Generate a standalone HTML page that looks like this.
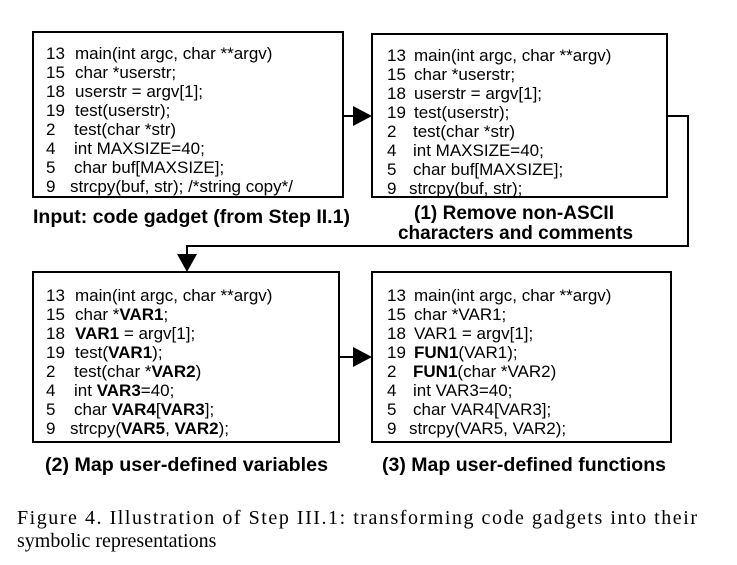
<!DOCTYPE html>
<html><head><meta charset="utf-8"><style>
html,body{margin:0;padding:0;background:#fff;}
svg{display:block;}
.c{font-family:"Liberation Sans Narrow","Liberation Sans",sans-serif;font-size:17px;fill:#000;}
.l{font-family:"Liberation Sans Narrow","Liberation Sans",sans-serif;font-size:19px;font-weight:bold;fill:#000;}
.cap{font-family:"Liberation Serif",serif;font-size:20px;fill:#000;}
</style></head><body>
<svg width="737" height="565" viewBox="0 0 737 565" xmlns="http://www.w3.org/2000/svg">
<g fill="none" stroke="#000" stroke-width="2">
<rect x="33" y="32" width="310" height="165"/>
<rect x="372" y="34" width="295" height="163"/>
<rect x="33" y="272" width="306" height="170"/>
<rect x="372" y="272" width="299" height="170"/>
<polyline points="667,116 688,116 688,246 187,246 187,256"/>
<line x1="343" y1="116" x2="354" y2="116"/>
<line x1="339" y1="357" x2="354" y2="357"/>
</g>
<g fill="#000">
<polygon points="353,106 372,116 353,126"/>
<polygon points="353,347 372,357 353,367"/>
<polygon points="177,254 197,254 187,272"/>
</g>
<g class="c">
<text x="46" y="59">13</text><text x="75" y="59">main(int argc, char **argv)</text>
<text x="46" y="78">15</text><text x="75" y="78">char *userstr;</text>
<text x="46" y="97">18</text><text x="75" y="97">userstr = argv[1];</text>
<text x="46" y="116">19</text><text x="75" y="116">test(userstr);</text>
<text x="46" y="135">2</text><text x="74" y="135">test(char *str)</text>
<text x="46" y="154">4</text><text x="74" y="154">int MAXSIZE=40;</text>
<text x="46" y="173">5</text><text x="74" y="173">char buf[MAXSIZE];</text>
<text x="46" y="192">9</text><text x="70" y="192">strcpy(buf, str); /*string copy*/</text>

<text x="387" y="61">13</text><text x="414" y="61">main(int argc, char **argv)</text>
<text x="387" y="80">15</text><text x="414" y="80">char *userstr;</text>
<text x="387" y="99">18</text><text x="414" y="99">userstr = argv[1];</text>
<text x="387" y="118">19</text><text x="414" y="118">test(userstr);</text>
<text x="387" y="137">2</text><text x="413" y="137">test(char *str)</text>
<text x="387" y="156">4</text><text x="413" y="156">int MAXSIZE=40;</text>
<text x="387" y="175">5</text><text x="413" y="175">char buf[MAXSIZE];</text>
<text x="387" y="194">9</text><text x="409" y="194">strcpy(buf, str);</text>

<text x="46" y="301">13</text><text x="75" y="301">main(int argc, char **argv)</text>
<text x="46" y="320">15</text><text x="75" y="320">char *<tspan font-weight="bold">VAR1</tspan>;</text>
<text x="46" y="339">18</text><text x="75" y="339"><tspan font-weight="bold">VAR1</tspan> = argv[1];</text>
<text x="46" y="358">19</text><text x="75" y="358">test(<tspan font-weight="bold">VAR1</tspan>);</text>
<text x="46" y="377">2</text><text x="74" y="377">test(char *<tspan font-weight="bold">VAR2</tspan>)</text>
<text x="46" y="396">4</text><text x="74" y="396">int <tspan font-weight="bold">VAR3</tspan>=40;</text>
<text x="46" y="415">5</text><text x="74" y="415">char <tspan font-weight="bold">VAR4</tspan>[<tspan font-weight="bold">VAR3</tspan>];</text>
<text x="46" y="434">9</text><text x="70" y="434">strcpy(<tspan font-weight="bold">VAR5</tspan>, <tspan font-weight="bold">VAR2</tspan>);</text>

<text x="387" y="301">13</text><text x="414" y="301">main(int argc, char **argv)</text>
<text x="387" y="320">15</text><text x="414" y="320">char *VAR1;</text>
<text x="387" y="339">18</text><text x="414" y="339">VAR1 = argv[1];</text>
<text x="387" y="358">19</text><text x="414" y="358"><tspan font-weight="bold">FUN1</tspan>(VAR1);</text>
<text x="387" y="377">2</text><text x="413" y="377"><tspan font-weight="bold">FUN1</tspan>(char *VAR2)</text>
<text x="387" y="396">4</text><text x="413" y="396">int VAR3=40;</text>
<text x="387" y="415">5</text><text x="413" y="415">char VAR4[VAR3];</text>
<text x="387" y="434">9</text><text x="409" y="434">strcpy(VAR5, VAR2);</text>
</g>
<g class="l">
<text x="33" y="223" textLength="317" lengthAdjust="spacingAndGlyphs">Input: code gadget (from Step II.1)</text>
<text x="414" y="219" textLength="200" lengthAdjust="spacingAndGlyphs">(1) Remove non-ASCII</text>
<text x="398" y="239" textLength="235" lengthAdjust="spacingAndGlyphs">characters and comments</text>
<text x="45" y="471" textLength="283" lengthAdjust="spacingAndGlyphs">(2) Map user-defined variables</text>
<text x="382" y="471" textLength="284" lengthAdjust="spacingAndGlyphs">(3) Map user-defined functions</text>
</g>
<g class="cap">
<text x="17" y="524" textLength="680" lengthAdjust="spacing">Figure 4.    Illustration of Step III.1: transforming code gadgets into their</text>
<text x="17" y="547">symbolic representations</text>
</g>
</svg>
</body></html>
